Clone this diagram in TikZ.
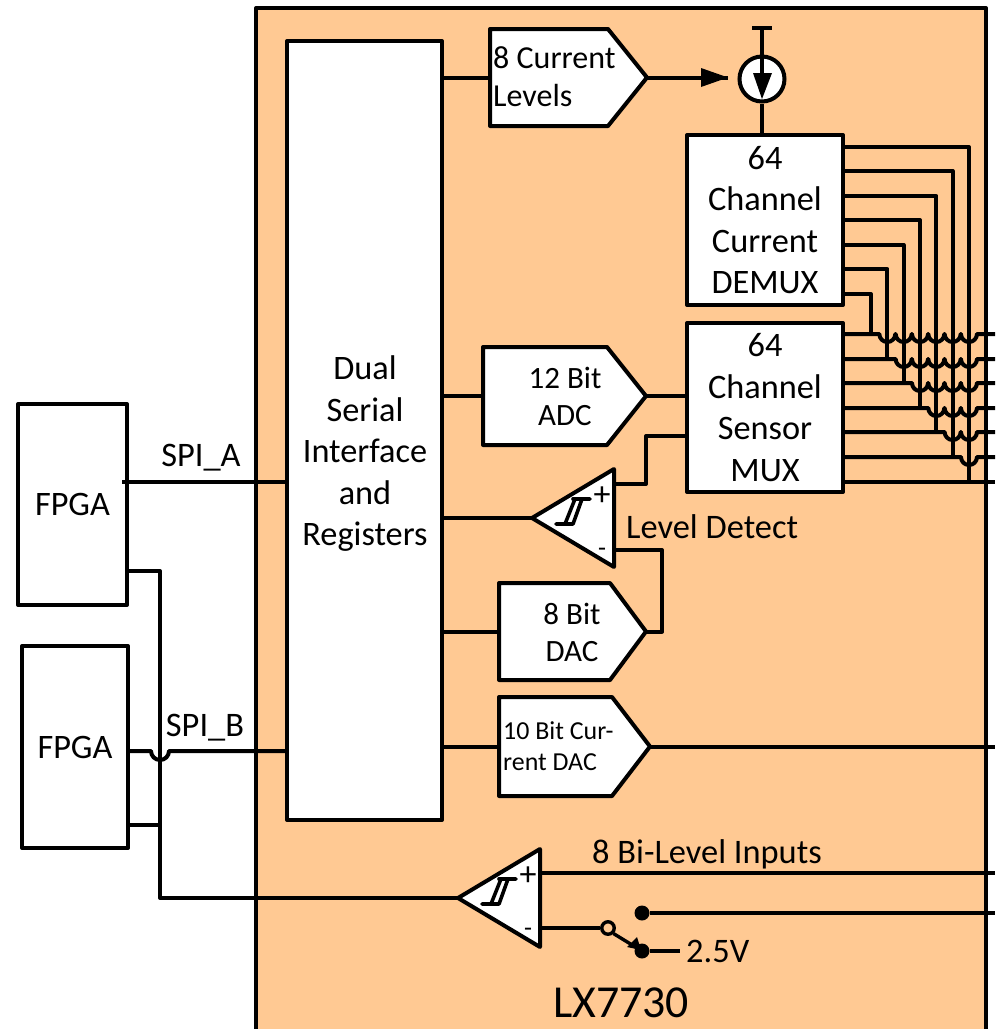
\documentclass[tikz,border=0pt]{standalone}
\usepackage{fontspec}
\setmainfont{Carlito}
\definecolor{chipfill}{HTML}{FFC993}
\tikzset{
  wire/.style={line width=4pt,line join=round},
  blockbox/.style={draw,fill=white,line width=4pt,line join=round,align=center,inner sep=0pt,font=\fontsize{34.3}{41.5}\selectfont},
  fpgabox/.style={blockbox,fill=none},
  blocktext/.style={inner sep=0pt,align=center,font=\fontsize{34.3}{41.5}\selectfont},
  lbl/.style={inner sep=0pt,align=center,font=\fontsize{31}{37}\selectfont},
  big/.style={inner sep=0pt,font=\fontsize{34.4}{40}\selectfont},
  bigl/.style={big,anchor=west},
  lbll/.style={inner sep=0pt,align=left,anchor=west,font=\fontsize{32}{38}\selectfont},
  small/.style={inner sep=0pt,align=left,anchor=west,font=\fontsize{25.9}{31}\selectfont},
  shapeline/.style={draw,fill=white,line width=4pt,line join=round},
  dot/.style={circle,fill=black,inner sep=0pt,minimum size=15pt},
  sym/.style={inner sep=0pt,font=\fontsize{#1}{#1}\selectfont}
}
% name, x left, x notch, x tip, y top, y bottom
\newcommand{\pentagonblock}[6]{%
  \path[shapeline] (#2,#5) -- (#3,#5) -- (#4,{(#5+#6)/2}) -- (#3,#6) -- (#2,#6) -- cycle;
  \coordinate (#1-in) at (#2,{(#5+#6)/2});
  \coordinate (#1-out) at (#4,{(#5+#6)/2});
}
% name, tip x, tip y; triangle with hysteresis glyph
\newcommand{\comparatorblock}[3]{%
  \begin{scope}[shift={(#2-532,#3-518)}]
    \path[shapeline] (532,518) -- (614,469) -- (614,567) -- cycle;
    \coordinate (#1-out) at (532,518);
    \coordinate (#1-p) at (614,484);
    \coordinate (#1-m) at (614,550);
    \draw[line width=3.6pt,line cap=round,line join=round] (556,524) -- (573,524) -- (582,499) -- (590,499);
    \draw[line width=3.6pt,line cap=round,line join=round] (573,499) -- (582,499);
    \draw[line width=3.6pt,line cap=round] (565,524) -- (575,499);
    \node[sym=34] (#1-plus) at (602,496) {+};
    \node[sym=26] (#1-minus) at (602,552) {-};
  \end{scope}
}
\begin{document}
\begin{tikzpicture}[x=1pt,y=-1pt]
\useasboundingbox (0,0) rectangle (998,1029);
\clip (0,0) rectangle (998,1029);
% chip body
\draw[fill=chipfill,line width=4pt,line join=round] (256,1045) -- (256,8) -- (986,8) -- (986,1045);
\node[font=\fontsize{45.8}{46}\selectfont,inner sep=0pt] (chip) at (621,1003) {LX7730};

% blocks
\node[blockbox,minimum width=155pt,minimum height=779pt] (reg) at (364.5,430.5) {};
\node[blocktext] (regt) at (365,454) {Dual\\Serial\\Interface\\and\\Registers};
\node[blockbox,minimum width=156pt,minimum height=170pt] (demux) at (765,220) {64\\Channel\\Current\\DEMUX};
\node[blockbox,minimum width=156pt,minimum height=169pt] (mux) at (765,407.5) {64\\Channel\\Sensor\\MUX};
\node[fpgabox,minimum width=109pt,minimum height=201pt] (fpgaa) at (72.5,504.5) {FPGA};
\node[fpgabox,minimum width=106pt,minimum height=202pt] (fpgab) at (75,747) {FPGA};

% current source
\node[draw,circle,fill=white,line width=4pt,minimum size=45pt,inner sep=0pt] (src) at (762,79) {};
\coordinate (rail) at (762,28);
\draw[wire] (rail) -- (src.north);
\draw[wire] (src.south) -- (demux.north -| src);
\draw[wire] (752,28) -- (772,28);
\draw[wire] (rail) -- (762,80);
\fill (753,73) -- (772,73) -- (762,99) -- cycle;

% pentagons
\pentagonblock{lev}{490}{608}{647}{29}{126}
\pentagonblock{adc}{483}{607}{646}{347}{445}
\pentagonblock{dac}{499}{610}{646}{583}{680}
\pentagonblock{cdac}{499}{612}{650}{697}{796}
\comparatorblock{cmpa}{532}{518}
\comparatorblock{cmpb}{458}{898}

\node[lbll] (levt) at (493,77) {8 Current\\Levels};
\node[lbl] (adct) at (565,396) {12 Bit\\ADC};
\node[lbl] (dact) at (572,632) {8 Bit\\DAC};
\node[small] (cdact) at (503,746.5) {10 Bit Cur-\\rent DAC};

% register connectors
\draw[wire] (reg.east |- lev-in) -- (lev-in);
\draw[wire] (reg.east |- adc-in) -- (adc-in);
\draw[wire] (reg.east |- cmpa-out) -- (cmpa-out);
\draw[wire] (reg.east |- dac-in) -- (dac-in);
\draw[wire] (reg.east |- cdac-in) -- (cdac-in);

% level output arrow
\coordinate (srcin) at (728,77.5);
\draw[wire] (lev-out) -- (srcin);
\fill (701,68) -- (728,77.5) -- (701,87) -- cycle;

% ADC, comparator, DAC
\draw[wire] (adc-out) -- (mux.west |- adc-out);
\draw[wire] (cmpa-p) -- (646,484) -- (646,436) -- (mux.west |- 0,436);
\draw[wire] (cmpa-m) -- (662,550) -- (662,631.5) -- (dac-out);
\coordinate (cdacend) at (995,746.5);
\draw[wire] (cdac-out) -- (cdacend);

% DEMUX outputs into MUX rows
\foreach \k/\yy/\ry in {0/147/482,1/171/457,2/196/432,3/220/408,4/245/383,5/269/359,6/294/334}{
  \draw[wire] (demux.east |- 0,\yy) -- ({969-16.33*\k},\yy) -- ({969-16.33*\k},\ry);
}
\foreach \i/\y in {1/334,2/359,3/383,4/408,5/432,6/457}{
  \draw[wire] (mux.east |- 0,\y)
    \foreach \k in {\i,...,6}{ -- ({871+16.33*\k-8},\y) arc[start angle=180,end angle=0,radius=8] }
    -- (995,\y);
}
\draw[wire] (mux.east |- 0,482) -- (995,482);

% SPI
\coordinate (spia) at (122,482);
\coordinate (spib) at (128,751);
\draw[wire] (spia) -- (reg.west |- spia);
\draw[wire] (spib) -- (151,751) arc[start angle=180,end angle=0,radius=9] -- (reg.west |- spib);
\node[big] (spiat) at (201,458) {SPI\_A};
\node[big] (spibt) at (205,728) {SPI\_B};

% bi-level return
\draw[wire] (cmpb-out) -- (160,898) -- (160,571) -- (fpgaa.east |- 0,571);
\draw[wire] (160,825) -- (fpgab.east |- 0,825);

% bi-level inputs
\node[dot] (d1) at (642,913) {};
\node[dot] (d2) at (642,951) {};
\node[draw,circle,fill=chipfill,line width=3.4pt,minimum size=12.5pt,inner sep=0pt] (sw) at (608,928) {};
\coordinate (bilend) at (995,873);
\draw[wire] (cmpb-p |- bilend) -- (bilend);
\draw[wire] (cmpb-m |- sw) -- (sw.west);
\draw[wire] (d1) -- (995,913);
\draw[wire] (d2) -- (680,951);
\draw[line width=3.4pt] (sw.south east) -- (d2.center);
\fill (627,947) -- (637,937) -- (641,950) -- cycle;

% labels
\node[bigl] (levdet) at (626,527) {Level Detect};
\node[bigl] (bil) at (592,854) {8 Bi-Level Inputs};
\node[bigl] (v25) at (686,951) {2.5V};
\end{tikzpicture}
\end{document}
